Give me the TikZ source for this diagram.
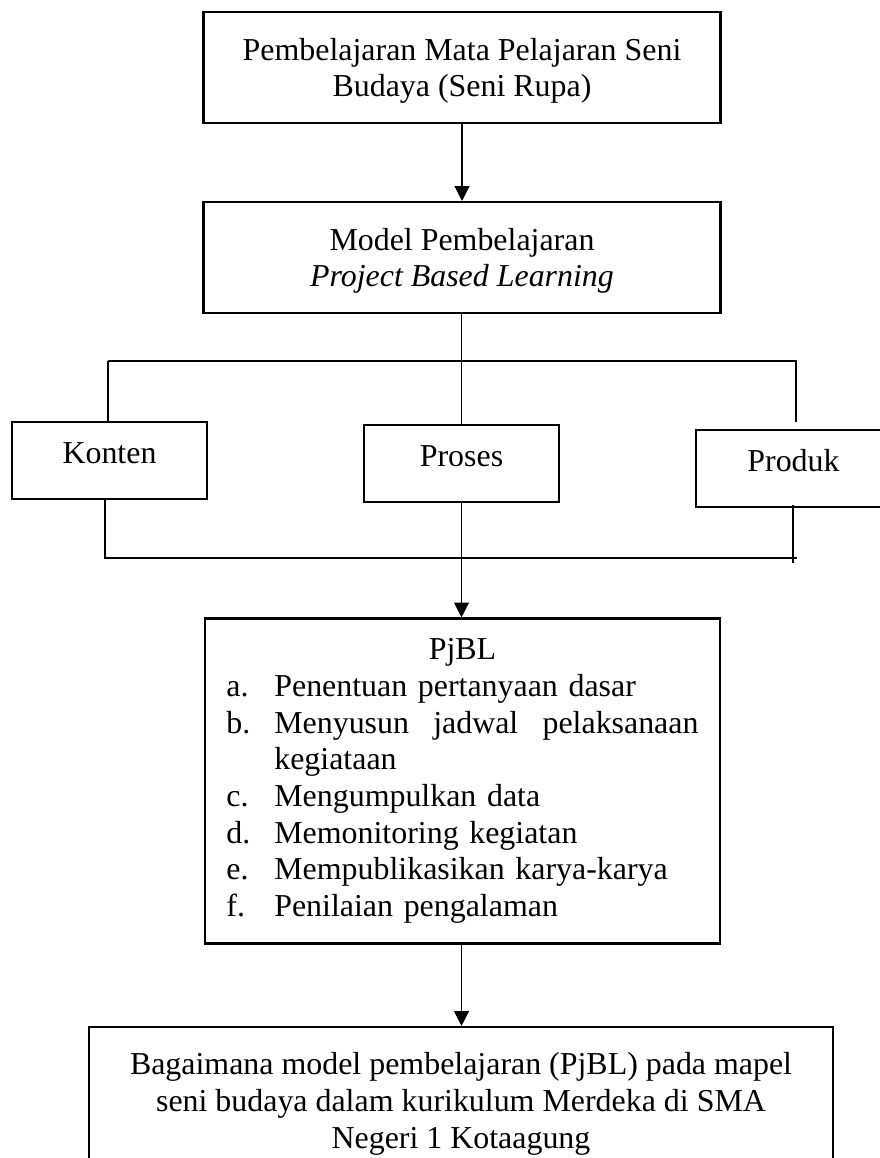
\documentclass[tikz,border=0pt]{standalone}
\usepackage{fontspec}
\setmainfont{Liberation Serif}
\usetikzlibrary{arrows.meta}

\newcommand{\pjitem}[2]{\par\noindent\hangindent=18pt\hangafter=1\makebox[18pt][l]{#1}#2\par}

\begin{document}
\begin{tikzpicture}[x=0.376pt, y=-0.376pt,
    box/.style={rectangle, draw, line width=0.8pt, align=center, inner sep=0pt,
                font=\fontsize{12}{13.8}\selectfont},
    wide/.style={box, minimum width=194.4pt, minimum height=41.7pt, text depth=0pt},
    small/.style={box, minimum width=73.6pt, minimum height=29pt,
                  text height=8pt, text depth=6pt},
    conn/.style={line width=0.45pt},
    arr/.style={conn, -{Triangle[width=5.6pt, length=5.6pt]}}]

    \useasboundingbox (0,0) rectangle (880,1158);
    \clip (0,0) rectangle (880,1158);

    % Top boxes
    \node[wide] (seni) at (462, 67.5) {Pembelajaran Mata Pelajaran Seni\\Budaya (Seni Rupa)};
    \node[wide] (model) at (462, 257.5) {Model Pembelajaran\\\textit{Project Based Learning}};

    % Konten / Proses / Produk
    \node[small] (konten) at (109.5, 460.5) {Konten};
    \node[small] (proses) at (461.5, 463.5) {Proses};
    \node[small] (produk) at (793.5, 468.5) {Produk};

    % PjBL steps
    \node[box, minimum width=193.6pt, minimum height=122.2pt, text width=177.5pt, align=left]
        (pjbl) at (462.5, 781) {{\centering PjBL\par}
        \pjitem{a.}{Penentuan pertanyaan dasar}
        \pjitem{b.}{Menyusun\hfill jadwal\hfill pelaksanaan\newline kegiataan}
        \pjitem{c.}{Mengumpulkan data}
        \pjitem{d.}{Memonitoring kegiatan}
        \pjitem{e.}{Mempublikasikan karya-karya}
        \pjitem{f.}{Penilaian pengalaman}};

    % Research question
    \node[box, minimum width=279.7pt, minimum height=57.9pt] (tanya) at (461, 1104)
        {Bagaimana model pembelajaran (PjBL) pada mapel\\seni budaya dalam kurikulum Merdeka di SMA\\Negeri 1 Kotaagung};

    % Branch lines
    \coordinate (topL) at (108, 361);
    \coordinate (topR) at (797, 361);
    \coordinate (prodtop) at (796, 422);
    \coordinate (botL) at (105, 558);
    \coordinate (botR) at (797, 558);
    \coordinate (prodbot) at (793, 563);

    \draw[conn] (proses.north |- model.south) -- (proses.north);
    \draw[conn] (topL) -- (topR);
    \draw[conn] (topL) -- (topL |- konten.north);
    \draw[conn] (prodtop |- topR) -- (prodtop);
    \draw[conn] (botL |- konten.south) -- (botL) -- (botR);
    \draw[conn] (prodbot |- produk.south) ++(0,-3) -- (prodbot);

    % Arrows
    \draw[arr] (seni) -- (model);
    \draw[arr] (proses.south) -- (proses.south |- pjbl.north);
    \draw[arr] (proses.south |- pjbl.south) -- (proses.south |- tanya.north);
\end{tikzpicture}
\end{document}
